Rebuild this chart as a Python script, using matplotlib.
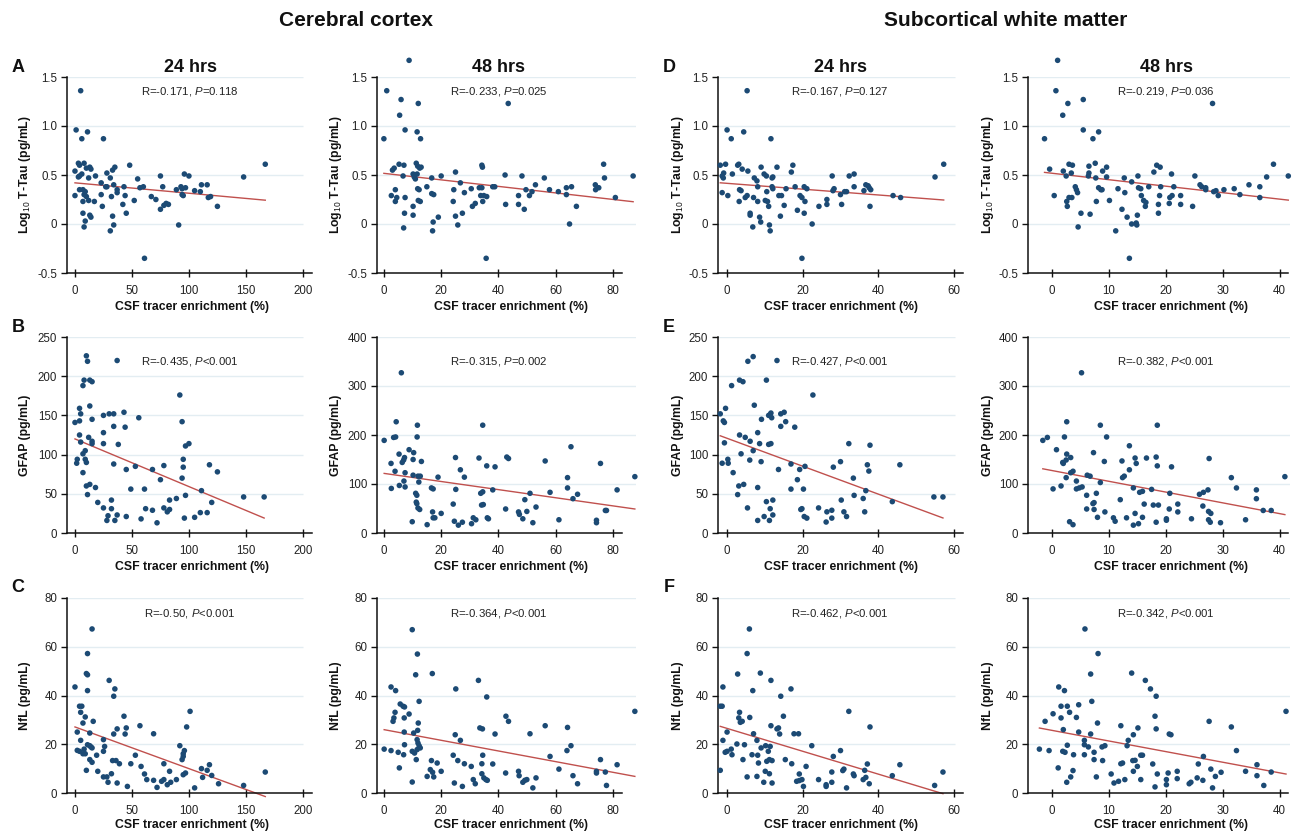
import numpy as np
import matplotlib
matplotlib.use("Agg")
import matplotlib.pyplot as plt

plt.rcParams['font.family'] = ['Liberation Sans', 'DejaVu Sans']
plt.rcParams['mathtext.fontset'] = 'custom'
plt.rcParams['mathtext.rm'] = 'Liberation Sans'
plt.rcParams['mathtext.it'] = 'Liberation Sans:italic'
plt.rcParams['mathtext.bf'] = 'Liberation Sans:bold'
plt.rcParams['axes.unicode_minus'] = False

# ---------------- DATA ----------------
# Cortex 24 h : Log10 T-Tau
cx24_tau_x = [5,1,11,6,25,167,148,0,3,4,8,10,13,14,4,3,6,18,28,33,35,48,31,12,55,75,96,100,23,27,28,34,37,37,43,57,60,77,89,93,94,97,94,95,105,110,111,116,117,119,125,4,7,9,0,8,10,12,7,17,23,24,32,44,42,52,67,71,75,78,80,82,7,13,14,9,8,33,45,34,31,91,61]
cx24_tau_y = [1.36,0.96,0.94,0.87,0.87,0.61,0.48,0.54,0.62,0.60,0.62,0.57,0.58,0.56,0.49,0.48,0.51,0.49,0.52,0.55,0.58,0.60,0.47,0.47,0.46,0.49,0.51,0.49,0.42,0.38,0.38,0.40,0.35,0.32,0.38,0.37,0.38,0.38,0.35,0.38,0.36,0.37,0.30,0.29,0.34,0.33,0.40,0.40,0.27,0.28,0.18,0.35,0.35,0.33,0.29,0.30,0.28,0.24,0.23,0.23,0.30,0.18,0.28,0.29,0.20,0.24,0.28,0.25,0.15,0.19,0.21,0.20,0.11,0.09,0.07,0.03,-0.03,0.08,0.11,-0.01,-0.07,-0.01,-0.35]

# Cortex 48 h : Log10 T-Tau
cx48_tau_x = [8.8,1,6,12,43.4,5.5,0,7.4,11.6,12.8,5.3,7,11.3,11.8,12.5,13,3,3.6,6.7,10.2,10.6,11,11.6,16.7,20,25,34.2,34.4,42.3,48.2,56,76.7,77,87,4,2.6,4,4.5,7.4,11.8,12.3,12,12.7,15,16.7,17.4,10.2,7.2,10.2,6.9,17.2,17,19,24.4,24.2,25,26.7,27.4,25.8,28.1,30.5,30.9,31.9,33.3,34.2,33.8,34.5,34.9,35.9,35.7,38,38.7,42.5,47,47,49,49.6,50.8,51.7,52.9,57.8,60.9,63.7,63.7,65.5,64.8,67.2,73.8,73.9,75,80.8]
cx48_tau_y = [1.67,1.36,1.27,1.23,1.23,1.11,0.87,0.96,0.94,0.87,0.61,0.60,0.62,0.59,0.57,0.58,0.55,0.57,0.49,0.51,0.48,0.46,0.51,0.47,0.49,0.53,0.60,0.58,0.50,0.49,0.47,0.61,0.47,0.49,0.35,0.29,0.23,0.27,0.27,0.36,0.35,0.24,0.23,0.38,0.31,0.30,0.18,0.11,0.09,-0.04,0.02,-0.07,0.07,0.35,0.23,0.08,0.42,0.11,-0.01,0.32,0.36,0.18,0.21,0.37,0.37,0.29,0.23,0.29,0.28,-0.35,0.38,0.38,0.20,0.20,0.29,0.15,0.35,0.29,0.33,0.40,0.35,0.33,0.37,0.30,0.38,0.00,0.18,0.40,0.35,0.37,0.27]

# White matter 24 h : Log10 T-Tau
wm24_tau_x = [5.3,0,4.4,1.1,11.6,57.3,55,-1.8,-0.4,-1.3,-0.9,-1,1.4,2.8,3.1,4,5.5,9,9.8,10.4,13.2,17.4,17,7.2,7.9,8.1,11.9,12.1,11.9,12.1,-1.3,0.2,3.3,3.7,3.2,4.8,5.3,7,8.1,10.5,10.7,11,13.7,14.4,15.1,15.6,18,19.3,19.8,20.4,21.1,20.6,18.6,20.4,19.8,22.5,24.3,26.4,26.4,27.8,28,28.3,30,30.3,31.1,31.6,32.3,33.6,33.6,36.2,36.7,37.3,37.6,38,37.8,43.9,45.9,6.1,6.1,6.8,8.6,8.9,11.2,11.4,14.1,10.1]
wm24_tau_y = [1.36,0.96,0.94,0.87,0.87,0.61,0.48,0.60,0.61,0.49,0.52,0.47,0.51,0.60,0.61,0.56,0.54,0.58,0.51,0.49,0.58,0.60,0.53,0.47,0.44,0.38,0.47,0.48,0.38,0.36,0.32,0.29,0.35,0.34,0.23,0.27,0.29,0.27,0.23,0.33,0.23,0.18,0.29,0.29,0.19,0.36,0.38,0.29,0.27,0.38,0.36,0.23,0.14,0.11,-0.35,0.00,0.18,0.25,0.20,0.49,0.34,0.36,0.30,0.20,0.33,0.33,0.49,0.51,0.38,0.34,0.40,0.39,0.37,0.35,0.18,0.29,0.27,0.09,0.11,-0.03,0.07,0.02,-0.01,-0.07,0.08,0.24]

# White matter 48 h : Log10 T-Tau
wm48_tau_x = [1,0.7,2.8,5.5,28.2,1.9,-1.3,5.5,8.2,7.2,-0.4,0.4,2,2.5,3,3.6,3.4,2.6,2.7,3,3.5,4.1,4.3,4.5,5.1,4.6,6.5,6.5,6.4,6.7,7.6,7.7,7.8,8.2,8.6,8.9,8.8,9.6,9.6,10.1,11.2,11.6,12.3,12.7,12.8,13.2,13.6,14,14,14.8,14.9,15,15.1,15.2,15.6,15.7,16.1,16.4,16.5,17,17.9,18.4,19,18.9,18.7,18.7,19.1,20.6,20.7,21,21.1,21.4,22.6,22.6,24.7,25.1,26,26.3,27,27,28.4,28.8,29.2,30.2,32,33,34.6,36.5,36.5,37.7,38.9,41.5]
wm48_tau_y = [1.67,1.36,1.23,1.27,1.23,1.11,0.87,0.96,0.94,0.87,0.56,0.29,0.54,0.49,0.61,0.60,0.52,0.23,0.18,0.27,0.27,0.38,0.35,0.32,0.11,-0.03,0.59,0.52,0.49,0.10,0.62,0.47,0.23,0.37,0.35,0.54,0.35,0.58,0.48,0.24,-0.07,0.36,0.15,0.47,0.32,0.07,-0.35,0.00,0.43,0.01,-0.01,0.09,0.49,0.37,0.36,0.29,0.24,0.18,0.22,0.38,0.53,0.60,0.58,0.29,0.20,0.11,0.38,0.21,0.27,0.51,0.29,0.38,0.29,0.20,0.18,0.49,0.40,0.38,0.35,0.37,0.33,0.34,0.29,0.35,0.36,0.30,0.40,0.38,0.27,0.48,0.61,0.49]

# Cortex 24 h : GFAP
cx24_gfap_x = [10,11,37,8,7,13,15,92,13,4,5,0,4,15,25,30,34,43,56,94,4,12,15,15,5,25,25,34,44,38,97,100,7,9,2,1.5,9,10,7,34,45,53,68,78,75,95,95,94,118,125,10,13,11,18,20,49,61,32,25,32,29,28,35,37,45,58,62,68,72,78,81,83,83,89,97,96,105,110,111,116,120,148,166]
cx24_gfap_y = [226,219,220,195,188,195,193,176,162,159,152,141,143,145,150,152,152,154,147,142,125,122,117,114,116,128,114,136,135,113,111,114,101,105,94,89,94,90,77,88,81,85,81,86,68,94,84,70,87,78,60,62,49,58,39,56,56,42,32,31,22,16,16,23,21,18,31,29,13,32,27,30,42,44,48,19,20,26,54,26,39,46,46]

# Cortex 48 h : GFAP
cx48_gfap_x = [6.1,4.3,11.7,34.5,0.1,3.4,4.1,11.6,8.8,10.4,5.3,2.5,3.9,6.4,7.2,6.9,7.4,10.2,13.1,2.6,5.4,7.4,7,10.2,11.9,12.7,12.2,11.1,11.5,11.3,11.5,11.9,12.5,9.9,15.1,16.6,17.2,17,17.2,17.8,20,18.9,24.2,24.6,25,25.1,26,27.4,26.7,28.1,30.6,31.2,32.1,33.2,33.8,34.5,34.1,34.7,35.9,36.1,36.5,38,38.8,42.9,43.5,42.5,47,47.3,48.5,49.2,49.9,51,52,53.1,56.3,58,61.1,64.1,64.1,65.3,66,67.6,74.2,74.2,75.6,77.3,77.7,81.4,87.6]
cx48_gfap_y = [327,227,220,220,189,195,196,196,170,164,161,142,126,144,154,149,123,150,146,91,97,94,106,118,116,116,104,81,77,63,60,51,48,23,17,92,90,43,31,31,40,114,59,24,154,89,16,22,129,114,19,31,27,153,81,84,57,58,137,31,29,88,135,155,152,49,43,38,29,68,44,81,21,53,147,83,27,113,92,176,70,79,26,21,142,46,46,88,115]

# White matter 24 h : GFAP
wm24_gfap_x = [5.5,6.9,13.2,3.3,4.2,10.4,1.2,22.7,-0.4,7.2,-1.8,-1,-0.7,9.1,11,11.4,11.6,11.8,14.2,15.1,14.2,15.5,17.9,-0.7,3.3,4.8,6.1,8.1,8.6,11,11.6,3.7,6.9,-1.3,0.2,0.3,6,9,1.6,13.6,16.9,19.2,20.6,18.6,16.9,20.2,28.1,30,32.2,33.4,37.8,37.1,37.5,36.7,45.7,3.1,4.4,2.8,8.1,5.4,8.1,10.4,9.8,11.2,11.4,12.1,12.1,19.5,19.8,20.4,21.1,24.2,26.2,26.4,27.7,27.7,30.2,30.9,31.6,33.6,36,36.4,43.7,54.7,57.1]
wm24_gfap_y = [219,225,220,195,193,195,188,176,159,163,152,143,141,145,150,151,153,147,152,154,136,142,135,115,125,122,117,128,114,113,114,101,105,89,94,89,93,91,77,81,88,81,85,68,56,56,84,91,114,70,112,87,79,54,87,60,62,49,58,32,16,40,21,16,31,42,23,30,31,21,19,32,14,27,29,19,42,27,21,48,44,27,40,46,46]

# White matter 48 h : GFAP
wm48_gfap_x = [5.2,2.6,8.5,18.5,-1.6,-0.8,2.2,9.6,0.8,7.3,13.6,2.6,3.3,2.5,2,1.9,9.2,12.3,14.6,14.8,16.6,18.3,18.5,21,13.6,27.6,3.3,3.7,6.2,6.7,2.5,12.4,12.7,31.5,40.9,4.3,8.5,1.6,0.2,4.3,4.8,5.3,14.3,32.4,35.9,15.4,15.9,17.5,20.7,25.9,27.4,26.6,7.8,6.1,7.4,7.2,35.9,12,6.1,7.4,9.3,16.2,17.8,18.7,22.1,22.1,20.6,26.5,27.5,27.9,8,3.1,3.7,10.8,11.1,13.1,14.6,14.3,15.2,15.9,18.3,20.1,20.1,24.5,27.5,27.8,29.6,34,37.1,38.5]
wm48_gfap_y = [327,227,220,220,189,195,196,196,170,164,178,161,154,149,142,144,146,147,153,142,153,155,137,135,129,152,123,126,118,116,113,113,116,113,115,106,103,96,90,90,92,94,92,92,88,83,85,89,81,79,88,83,81,77,62,60,70,68,49,48,43,59,57,57,59,43,49,55,44,40,32,23,17,31,24,31,40,16,19,32,22,29,26,29,27,22,21,27,46,46]

# Cortex 24 h : NfL
cx24_nfl_x = [15,11,10,11,11,30,35,34,0,4,6,5,9,7,16,101,98,43,45,37,57,69,34,44,2,13,25,26,25,5,2,4,7,9,8,11,13,14,15,19,92,96,95,95,94,13,15,33,36,39,49,53,58,61,63,69,72,78,76,78,81,83,84,89,95,97,10,20,25,28,29,32,37,46,105,111,112,116,118,120,126,148,167]
cx24_nfl_y = [67.3,57.2,49,48.5,42,46.2,42.7,39.7,43.5,35.6,35.6,33.1,31.2,28.7,29.4,33.5,27.1,31.5,26.7,26.3,27.6,24.3,24.2,24.2,25,24.6,21.9,19.1,17.1,21.6,17.5,17.1,16.1,16.1,18,19.8,19.4,18.9,18.5,15.5,19.4,17.4,16.1,15,13.7,13.7,12.6,13.3,13.3,12,12,15.5,10.9,7.8,5.5,5.2,2.3,12,4.8,5.5,3.4,8.9,4.4,5.5,7.5,8.2,9.3,8.9,6.6,6.6,4.4,7.9,4.1,2.7,2.1,10,6.4,9.3,11.6,7.2,3.8,3.1,8.6]

# Cortex 48 h : NfL
cx48_nfl_x = [9.9,11.7,11.1,16.9,2.5,4.1,25.1,33,35.9,5.7,6.7,7.2,3.9,3.5,3.2,7.1,8.8,12.3,12,11.8,7.1,10.4,42.6,43.5,33.5,34.4,38.8,24.9,26.7,0.1,2.5,5,6.9,7.2,9.9,10.7,11.3,11.6,11.9,12.3,12.7,11.6,5.4,9.9,16.6,16.2,17,17.4,15.1,18.6,20,24.2,24.6,25.8,27.4,28.1,30.5,31.2,31.9,34.2,34.2,34.5,34.9,35.6,36.1,38,42.5,47,47.2,48.5,49.2,49.9,51,52,53.1,56.3,58,61.1,64.1,63.9,65.3,66,67.6,74.2,74.2,75.6,77.3,77.7,81.4,87.6]
cx48_nfl_y = [67,57,48.5,49,43.5,42,42.7,46.2,39.4,36.5,35.6,35.3,33.1,30.8,29.4,30.8,32.4,37.6,28.7,25.7,25,24.6,31.5,29.4,26.7,26.3,24.2,23.9,21.6,18,17.4,16.7,15.7,19.8,17.1,16.4,13.7,21.9,20.5,19.4,18.5,17.8,10.3,4.5,13.3,9.6,8.5,6.6,6.8,12.3,8.9,15.5,4.1,13.3,2.7,12,10.9,5.5,3.8,12,7.9,15.5,6.2,5.5,5.2,11.9,8.2,8.9,7.1,4.4,5.2,5.5,24.3,2.1,6.2,27.6,15,9.8,26.9,17.4,19.4,7.1,3.8,8.9,8.2,13.7,8.6,3.1,11.6,33.5]

# White matter 24 h : NfL
wm24_nfl_x = [5.9,5.3,2.8,8.8,11.6,16.9,-1.1,6.8,14.2,-1.8,-1.3,3.3,3.1,6,3.5,4,14.9,32.2,37.8,11.6,13.2,13.6,13.9,17.7,18.9,7,0,7.9,-1.1,22.4,2.6,4.6,10.2,11.4,9,10.9,-0.5,0,1.1,1.3,6.6,8.1,28.1,30,4.2,8.3,10.5,11.2,11.9,15.4,17.1,20.9,19.1,-1.8,5.3,7.9,10.1,11.2,9.7,11.9,18.4,19.1,19.8,20.2,24.2,26.2,26.2,27.7,27.7,30.6,30.9,31.6,33.4,33.6,36,36.4,36.7,37.1,37.6,43.7,45.7,54.9,57.1]
wm24_nfl_y = [67.3,57.2,48.8,49.2,46.2,42.7,43.5,42,39.7,35.6,35.6,33.1,30.8,31,29,29.4,31.5,33.5,27.1,27.6,26.3,26.7,24.2,24.3,24.3,24.3,25,21.6,21.6,19.4,20.1,19.8,19.4,19.1,18.5,17.1,16.7,17.1,18,15.7,15.7,15.5,15,17.4,13.7,12.3,13,13.7,13.3,13.7,12,10.9,7.8,9.3,6.6,6.8,8.9,7.9,4.4,4.1,4.8,5.1,5.5,2.7,5.5,2.7,3.4,8.6,4.4,9.2,9.8,2.1,7.8,7.1,5.5,9.3,6.4,11.9,3.8,7.1,11.6,3.1,8.6]

# White matter 48 h : NfL
wm48_nfl_x = [5.8,8.1,6.8,14,16.4,17.3,1.2,2.2,18.3,7,4.7,1.6,2.7,0.2,3.1,1.6,4.3,-1.2,8,18.1,27.6,12.1,15.1,18.3,31.5,41.1,2,4.7,6.8,14.3,20.6,20.9,13.4,13.2,5.7,5.7,6.4,2.7,8.8,9.3,-2.2,-0.5,1.9,2.3,3.8,5.7,7.4,15.6,15.9,26.6,32.4,7.4,8.9,12.1,12.4,14.2,14.6,15,17.7,25.7,36,1.1,3.7,3.3,2.6,7.8,10.4,10.9,11.7,12.8,14.3,15.6,18.5,18.1,20.1,20.1,20.4,22,22,24.1,24.4,25.5,26.5,27.9,28.2,28.7,29.7,34,36,37.2,38.5]
wm48_nfl_y = [67.3,57.2,48.8,49.2,46.2,42.7,43.5,42,39.7,37.6,36.2,35.6,35.6,32.5,33.1,30.8,31,29.4,28.7,31.5,29.4,27.6,26.7,26.3,27.1,33.5,26,25,24.2,23.9,24.2,23.9,21.6,19.4,21.6,19.8,18.9,19.6,18.9,19.4,18,17.4,17.1,16.7,15.7,15.7,16.7,15.5,15.5,15,17.4,13.7,13.3,12,12.3,13.3,13.4,10.9,11.9,11.9,11.6,10.3,9.2,6.6,4.4,6.6,7.8,4.1,4.8,5.5,8.9,5.5,7.8,2.5,5.5,3.4,8.2,8.9,5.9,3.8,4.4,6.2,5.2,9.8,2.1,6.8,8.5,8.9,7.1,3.1,8.6]

# Regression lines: (intercept, slope)
fit_cx24_tau, fit_cx48_tau, fit_wm24_tau, fit_wm48_tau = (0.42, -0.00106), (0.517, -0.00333), (0.415, -0.00297), (0.518, -0.00661)
fit_cx24_gfap, fit_cx48_gfap, fit_wm24_gfap, fit_wm48_gfap = (120.0, -0.608), (121.7, -0.83), (120.8, -1.78), (127.5, -2.2)
fit_cx24_nfl, fit_cx48_nfl, fit_wm24_nfl, fit_wm48_nfl = (27.1, -0.171), (26.0, -0.219), (26.5, -0.469), (25.7, -0.436)

# Statistics text
stats_tau = [("-0.171", "=0.118"), ("-0.233", "=0.025"), ("-0.167", "=0.127"), ("-0.219", "=0.036")]
stats_gfap = [("-0.435", "<0.001"), ("-0.315", "=0.002"), ("-0.427", "<0.001"), ("-0.382", "<0.001")]
stats_nfl = [("-0.50", "<0.001"), ("-0.364", "<0.001"), ("-0.462", "<0.001"), ("-0.342", "<0.001")]

x_ticks = [[0, 50, 100, 150, 200], [0, 20, 40, 60, 80], [0, 20, 40, 60], [0, 10, 20, 30, 40]]
tau_ticks, tau_labels = [-0.5, 0, 0.5, 1.0, 1.5], ["-0.5", "0", "0.5", "1.0", "1.5"]
gfap_ticks_250 = [0, 50, 100, 150, 200, 250]
gfap_ticks_400 = [0, 100, 200, 300, 400]
nfl_ticks = [0, 20, 40, 60, 80]

ylabels = ["Log$_{10}$ T-Tau (pg/mL)", "GFAP (pg/mL)", "NfL (pg/mL)"]
col_titles = ["24 hrs", "48 hrs", "24 hrs", "48 hrs"]
headers = ["Cerebral cortex", "Subcortical white matter"]
letters = [["A", "B", "C"], ["D", "E", "F"]]
xlabel = "CSF tracer enrichment (%)"

# ---------------- LAYOUT ----------------
W, H = 1296, 835
fig = plt.figure(figsize=(W / 100, H / 100), dpi=100)

col_px = [(67, 312), (377, 636), (718, 963), (1028, 1290)]
col_xlim = [(-7, 208), (-2.4, 88), (-2.4, 62.4), (-4.2, 41.8)]
col_spine_end = [208, 83.2, 62.4, 41.4]
col_grid_end = [200, 88, 60.3, 41.8]
col_center = [190, 499, 840, 1166]
col_xlabel_center = [192, 511, 841, 1171]
col_ylabel_x = [25, 336, 678, 988]
row_px = [(77, 273), (337, 533), (598, 793)]
row_xlabel_y = [307, 567, 825]
row_stat_y = [91, 361, 613]

DOT = "#1c4a74"
LINE = "#c0504d"
GRID = "#e3edf2"
TXT = "#222222"

data = [
    [(cx24_tau_x, cx24_tau_y, fit_cx24_tau), (cx48_tau_x, cx48_tau_y, fit_cx48_tau),
     (wm24_tau_x, wm24_tau_y, fit_wm24_tau), (wm48_tau_x, wm48_tau_y, fit_wm48_tau)],
    [(cx24_gfap_x, cx24_gfap_y, fit_cx24_gfap), (cx48_gfap_x, cx48_gfap_y, fit_cx48_gfap),
     (wm24_gfap_x, wm24_gfap_y, fit_wm24_gfap), (wm48_gfap_x, wm48_gfap_y, fit_wm48_gfap)],
    [(cx24_nfl_x, cx24_nfl_y, fit_cx24_nfl), (cx48_nfl_x, cx48_nfl_y, fit_cx48_nfl),
     (wm24_nfl_x, wm24_nfl_y, fit_wm24_nfl), (wm48_nfl_x, wm48_nfl_y, fit_wm48_nfl)],
]
stats = [stats_tau, stats_gfap, stats_nfl]


def yspec(r, c):
    if r == 0:
        return (-0.5, 1.5), tau_ticks, tau_labels
    if r == 1:
        t = gfap_ticks_250 if c in (0, 2) else gfap_ticks_400
        return (t[0], t[-1]), t, [str(v) for v in t]
    return (0, 80), nfl_ticks, [str(v) for v in nfl_ticks]


for r in range(3):
    for c in range(4):
        x0, x1 = col_px[c]
        y0, y1 = row_px[r]
        ax = fig.add_axes([x0 / W, 1 - y1 / H, (x1 - x0) / W, (y1 - y0) / H])
        ax.set_facecolor("none")
        ylim, yt, ytl = yspec(r, c)
        ax.set_xlim(*col_xlim[c])
        ax.set_ylim(*ylim)
        for s in ("top", "right"):
            ax.spines[s].set_visible(False)
        for s in ("left", "bottom"):
            ax.spines[s].set_linewidth(1.1)
            ax.spines[s].set_color("#111111")
        ax.spines["bottom"].set_bounds(col_xlim[c][0], col_spine_end[c])
        ax.set_xticks(x_ticks[c])
        ax.set_xticklabels([str(v) for v in x_ticks[c]])
        ax.set_yticks(yt)
        ax.set_yticklabels(ytl)
        ax.tick_params(axis="both", labelsize=8.3, colors="#111111", labelcolor=TXT,
                       width=1.0, length=4, pad=3)
        ax.tick_params(axis="x", direction="inout", length=6, pad=6)
        ax.hlines(yt[1:], col_xlim[c][0], col_grid_end[c], color=GRID, lw=1.0, zorder=0)

        xs, ys, fit = data[r][c]
        xs = np.asarray(xs, float)
        ys = np.asarray(ys, float)
        xl = np.array([xs.min(), xs.max()])
        ax.plot(xl, fit[0] + fit[1] * xl, color=LINE, lw=1.0, zorder=2, clip_on=False)
        ax.scatter(xs, ys, s=16, color=DOT, edgecolors="none", zorder=3, clip_on=False)

        rv, pv = stats[r][c]
        fig.text(col_center[c] / W, 1 - row_stat_y[r] / H,
                 "R=" + rv + ", $\\mathit{P}$" + pv,
                 ha="center", va="center", fontsize=8.2, color=TXT)
        fig.text(col_xlabel_center[c] / W, 1 - row_xlabel_y[r] / H, xlabel,
                 ha="center", va="center", fontsize=8.8, fontweight="bold", color="#111111")
        fig.text(col_ylabel_x[c] / W, 1 - (y0 + y1) / 2 / H, ylabels[r], rotation=90,
                 ha="center", va="center", fontsize=8.8, fontweight="bold", color="#111111")

for c in range(4):
    fig.text(col_center[c] / W, 1 - 68 / H, col_titles[c], ha="center", va="center",
             fontsize=13, fontweight="bold", color="#111111")

fig.text(356 / W, 1 - 20 / H, headers[0], ha="center", va="center",
         fontsize=15, fontweight="bold", color="#111111")
fig.text(1006 / W, 1 - 20 / H, headers[1], ha="center", va="center",
         fontsize=15, fontweight="bold", color="#111111")

for side, lx in enumerate([18, 669]):
    for r, ly in enumerate([68, 327, 587]):
        fig.text(lx / W, 1 - ly / H, letters[side][r], ha="center", va="center",
                 fontsize=13, fontweight="bold", color="#111111")

fig.savefig("out.png", dpi=100)
